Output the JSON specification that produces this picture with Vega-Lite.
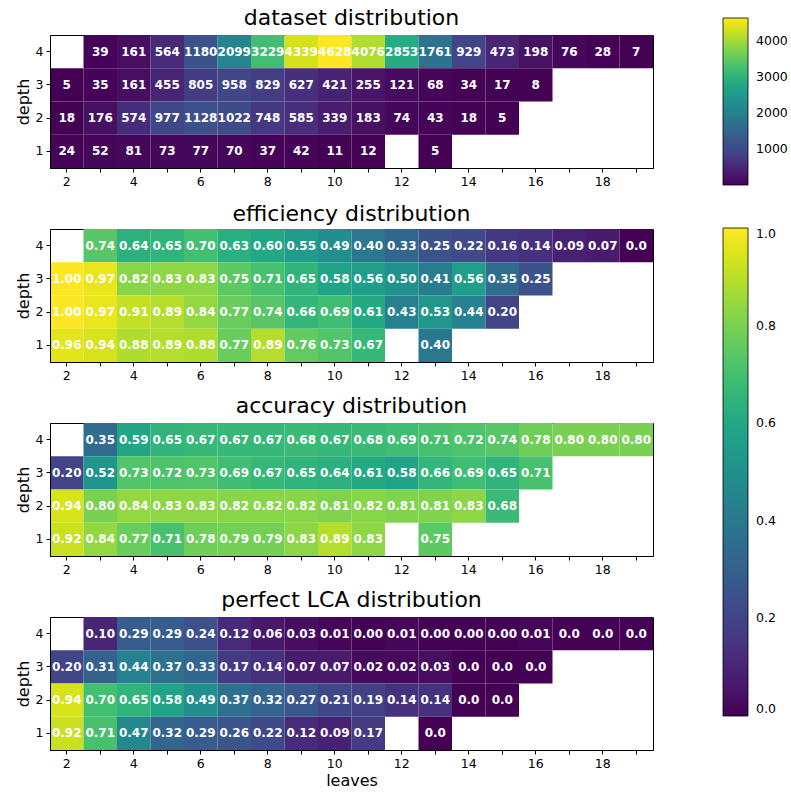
{
"$schema": "https://vega.github.io/schema/vega-lite/v6.json",
"background": "white",
"padding": {"left": 14, "top": 6, "right": 0, "bottom": 0},
"config": {
  "font": "DejaVu Sans",
  "view": {"stroke": "black", "strokeWidth": 1},
  "axis": {"domainColor": "black", "tickColor": "black", "tickSize": 4, "labelFontSize": 12.5, "labelFont": "DejaVu Sans", "labelColor": "black", "titleFont": "DejaVu Sans", "titleFontSize": 16, "titleFontWeight": "normal", "titleColor": "black", "grid": false, "labelPadding": 3},
  "title": {"font": "DejaVu Sans", "fontSize": 22, "fontWeight": "normal", "color": "black", "offset": 5, "frame": "group"},
  "legend": {"labelFont": "DejaVu Sans", "labelFontSize": 12.5, "labelColor": "black"}
},
"data": {"values": [
{"metric":"dataset","leaves":3,"depth":4,"value":39,"label":"39"},
{"metric":"dataset","leaves":4,"depth":4,"value":161,"label":"161"},
{"metric":"dataset","leaves":5,"depth":4,"value":564,"label":"564"},
{"metric":"dataset","leaves":6,"depth":4,"value":1180,"label":"1180"},
{"metric":"dataset","leaves":7,"depth":4,"value":2099,"label":"2099"},
{"metric":"dataset","leaves":8,"depth":4,"value":3229,"label":"3229"},
{"metric":"dataset","leaves":9,"depth":4,"value":4339,"label":"4339"},
{"metric":"dataset","leaves":10,"depth":4,"value":4628,"label":"4628"},
{"metric":"dataset","leaves":11,"depth":4,"value":4076,"label":"4076"},
{"metric":"dataset","leaves":12,"depth":4,"value":2853,"label":"2853"},
{"metric":"dataset","leaves":13,"depth":4,"value":1761,"label":"1761"},
{"metric":"dataset","leaves":14,"depth":4,"value":929,"label":"929"},
{"metric":"dataset","leaves":15,"depth":4,"value":473,"label":"473"},
{"metric":"dataset","leaves":16,"depth":4,"value":198,"label":"198"},
{"metric":"dataset","leaves":17,"depth":4,"value":76,"label":"76"},
{"metric":"dataset","leaves":18,"depth":4,"value":28,"label":"28"},
{"metric":"dataset","leaves":19,"depth":4,"value":7,"label":"7"},
{"metric":"dataset","leaves":2,"depth":3,"value":5,"label":"5"},
{"metric":"dataset","leaves":3,"depth":3,"value":35,"label":"35"},
{"metric":"dataset","leaves":4,"depth":3,"value":161,"label":"161"},
{"metric":"dataset","leaves":5,"depth":3,"value":455,"label":"455"},
{"metric":"dataset","leaves":6,"depth":3,"value":805,"label":"805"},
{"metric":"dataset","leaves":7,"depth":3,"value":958,"label":"958"},
{"metric":"dataset","leaves":8,"depth":3,"value":829,"label":"829"},
{"metric":"dataset","leaves":9,"depth":3,"value":627,"label":"627"},
{"metric":"dataset","leaves":10,"depth":3,"value":421,"label":"421"},
{"metric":"dataset","leaves":11,"depth":3,"value":255,"label":"255"},
{"metric":"dataset","leaves":12,"depth":3,"value":121,"label":"121"},
{"metric":"dataset","leaves":13,"depth":3,"value":68,"label":"68"},
{"metric":"dataset","leaves":14,"depth":3,"value":34,"label":"34"},
{"metric":"dataset","leaves":15,"depth":3,"value":17,"label":"17"},
{"metric":"dataset","leaves":16,"depth":3,"value":8,"label":"8"},
{"metric":"dataset","leaves":2,"depth":2,"value":18,"label":"18"},
{"metric":"dataset","leaves":3,"depth":2,"value":176,"label":"176"},
{"metric":"dataset","leaves":4,"depth":2,"value":574,"label":"574"},
{"metric":"dataset","leaves":5,"depth":2,"value":977,"label":"977"},
{"metric":"dataset","leaves":6,"depth":2,"value":1128,"label":"1128"},
{"metric":"dataset","leaves":7,"depth":2,"value":1022,"label":"1022"},
{"metric":"dataset","leaves":8,"depth":2,"value":748,"label":"748"},
{"metric":"dataset","leaves":9,"depth":2,"value":585,"label":"585"},
{"metric":"dataset","leaves":10,"depth":2,"value":339,"label":"339"},
{"metric":"dataset","leaves":11,"depth":2,"value":183,"label":"183"},
{"metric":"dataset","leaves":12,"depth":2,"value":74,"label":"74"},
{"metric":"dataset","leaves":13,"depth":2,"value":43,"label":"43"},
{"metric":"dataset","leaves":14,"depth":2,"value":18,"label":"18"},
{"metric":"dataset","leaves":15,"depth":2,"value":5,"label":"5"},
{"metric":"dataset","leaves":2,"depth":1,"value":24,"label":"24"},
{"metric":"dataset","leaves":3,"depth":1,"value":52,"label":"52"},
{"metric":"dataset","leaves":4,"depth":1,"value":81,"label":"81"},
{"metric":"dataset","leaves":5,"depth":1,"value":73,"label":"73"},
{"metric":"dataset","leaves":6,"depth":1,"value":77,"label":"77"},
{"metric":"dataset","leaves":7,"depth":1,"value":70,"label":"70"},
{"metric":"dataset","leaves":8,"depth":1,"value":37,"label":"37"},
{"metric":"dataset","leaves":9,"depth":1,"value":42,"label":"42"},
{"metric":"dataset","leaves":10,"depth":1,"value":11,"label":"11"},
{"metric":"dataset","leaves":11,"depth":1,"value":12,"label":"12"},
{"metric":"dataset","leaves":13,"depth":1,"value":5,"label":"5"},

{"metric":"efficiency","leaves":3,"depth":4,"value":0.74,"label":"0.74"},
{"metric":"efficiency","leaves":4,"depth":4,"value":0.64,"label":"0.64"},
{"metric":"efficiency","leaves":5,"depth":4,"value":0.65,"label":"0.65"},
{"metric":"efficiency","leaves":6,"depth":4,"value":0.70,"label":"0.70"},
{"metric":"efficiency","leaves":7,"depth":4,"value":0.63,"label":"0.63"},
{"metric":"efficiency","leaves":8,"depth":4,"value":0.60,"label":"0.60"},
{"metric":"efficiency","leaves":9,"depth":4,"value":0.55,"label":"0.55"},
{"metric":"efficiency","leaves":10,"depth":4,"value":0.49,"label":"0.49"},
{"metric":"efficiency","leaves":11,"depth":4,"value":0.40,"label":"0.40"},
{"metric":"efficiency","leaves":12,"depth":4,"value":0.33,"label":"0.33"},
{"metric":"efficiency","leaves":13,"depth":4,"value":0.25,"label":"0.25"},
{"metric":"efficiency","leaves":14,"depth":4,"value":0.22,"label":"0.22"},
{"metric":"efficiency","leaves":15,"depth":4,"value":0.16,"label":"0.16"},
{"metric":"efficiency","leaves":16,"depth":4,"value":0.14,"label":"0.14"},
{"metric":"efficiency","leaves":17,"depth":4,"value":0.09,"label":"0.09"},
{"metric":"efficiency","leaves":18,"depth":4,"value":0.07,"label":"0.07"},
{"metric":"efficiency","leaves":19,"depth":4,"value":0.0,"label":"0.0"},
{"metric":"efficiency","leaves":2,"depth":3,"value":1.00,"label":"1.00"},
{"metric":"efficiency","leaves":3,"depth":3,"value":0.97,"label":"0.97"},
{"metric":"efficiency","leaves":4,"depth":3,"value":0.82,"label":"0.82"},
{"metric":"efficiency","leaves":5,"depth":3,"value":0.83,"label":"0.83"},
{"metric":"efficiency","leaves":6,"depth":3,"value":0.83,"label":"0.83"},
{"metric":"efficiency","leaves":7,"depth":3,"value":0.75,"label":"0.75"},
{"metric":"efficiency","leaves":8,"depth":3,"value":0.71,"label":"0.71"},
{"metric":"efficiency","leaves":9,"depth":3,"value":0.65,"label":"0.65"},
{"metric":"efficiency","leaves":10,"depth":3,"value":0.58,"label":"0.58"},
{"metric":"efficiency","leaves":11,"depth":3,"value":0.56,"label":"0.56"},
{"metric":"efficiency","leaves":12,"depth":3,"value":0.50,"label":"0.50"},
{"metric":"efficiency","leaves":13,"depth":3,"value":0.41,"label":"0.41"},
{"metric":"efficiency","leaves":14,"depth":3,"value":0.56,"label":"0.56"},
{"metric":"efficiency","leaves":15,"depth":3,"value":0.35,"label":"0.35"},
{"metric":"efficiency","leaves":16,"depth":3,"value":0.25,"label":"0.25"},
{"metric":"efficiency","leaves":2,"depth":2,"value":1.00,"label":"1.00"},
{"metric":"efficiency","leaves":3,"depth":2,"value":0.97,"label":"0.97"},
{"metric":"efficiency","leaves":4,"depth":2,"value":0.91,"label":"0.91"},
{"metric":"efficiency","leaves":5,"depth":2,"value":0.89,"label":"0.89"},
{"metric":"efficiency","leaves":6,"depth":2,"value":0.84,"label":"0.84"},
{"metric":"efficiency","leaves":7,"depth":2,"value":0.77,"label":"0.77"},
{"metric":"efficiency","leaves":8,"depth":2,"value":0.74,"label":"0.74"},
{"metric":"efficiency","leaves":9,"depth":2,"value":0.66,"label":"0.66"},
{"metric":"efficiency","leaves":10,"depth":2,"value":0.69,"label":"0.69"},
{"metric":"efficiency","leaves":11,"depth":2,"value":0.61,"label":"0.61"},
{"metric":"efficiency","leaves":12,"depth":2,"value":0.43,"label":"0.43"},
{"metric":"efficiency","leaves":13,"depth":2,"value":0.53,"label":"0.53"},
{"metric":"efficiency","leaves":14,"depth":2,"value":0.44,"label":"0.44"},
{"metric":"efficiency","leaves":15,"depth":2,"value":0.20,"label":"0.20"},
{"metric":"efficiency","leaves":2,"depth":1,"value":0.96,"label":"0.96"},
{"metric":"efficiency","leaves":3,"depth":1,"value":0.94,"label":"0.94"},
{"metric":"efficiency","leaves":4,"depth":1,"value":0.88,"label":"0.88"},
{"metric":"efficiency","leaves":5,"depth":1,"value":0.89,"label":"0.89"},
{"metric":"efficiency","leaves":6,"depth":1,"value":0.88,"label":"0.88"},
{"metric":"efficiency","leaves":7,"depth":1,"value":0.77,"label":"0.77"},
{"metric":"efficiency","leaves":8,"depth":1,"value":0.89,"label":"0.89"},
{"metric":"efficiency","leaves":9,"depth":1,"value":0.76,"label":"0.76"},
{"metric":"efficiency","leaves":10,"depth":1,"value":0.73,"label":"0.73"},
{"metric":"efficiency","leaves":11,"depth":1,"value":0.67,"label":"0.67"},
{"metric":"efficiency","leaves":13,"depth":1,"value":0.40,"label":"0.40"},

{"metric":"accuracy","leaves":3,"depth":4,"value":0.35,"label":"0.35"},
{"metric":"accuracy","leaves":4,"depth":4,"value":0.59,"label":"0.59"},
{"metric":"accuracy","leaves":5,"depth":4,"value":0.65,"label":"0.65"},
{"metric":"accuracy","leaves":6,"depth":4,"value":0.67,"label":"0.67"},
{"metric":"accuracy","leaves":7,"depth":4,"value":0.67,"label":"0.67"},
{"metric":"accuracy","leaves":8,"depth":4,"value":0.67,"label":"0.67"},
{"metric":"accuracy","leaves":9,"depth":4,"value":0.68,"label":"0.68"},
{"metric":"accuracy","leaves":10,"depth":4,"value":0.67,"label":"0.67"},
{"metric":"accuracy","leaves":11,"depth":4,"value":0.68,"label":"0.68"},
{"metric":"accuracy","leaves":12,"depth":4,"value":0.69,"label":"0.69"},
{"metric":"accuracy","leaves":13,"depth":4,"value":0.71,"label":"0.71"},
{"metric":"accuracy","leaves":14,"depth":4,"value":0.72,"label":"0.72"},
{"metric":"accuracy","leaves":15,"depth":4,"value":0.74,"label":"0.74"},
{"metric":"accuracy","leaves":16,"depth":4,"value":0.78,"label":"0.78"},
{"metric":"accuracy","leaves":17,"depth":4,"value":0.80,"label":"0.80"},
{"metric":"accuracy","leaves":18,"depth":4,"value":0.80,"label":"0.80"},
{"metric":"accuracy","leaves":19,"depth":4,"value":0.80,"label":"0.80"},
{"metric":"accuracy","leaves":2,"depth":3,"value":0.20,"label":"0.20"},
{"metric":"accuracy","leaves":3,"depth":3,"value":0.52,"label":"0.52"},
{"metric":"accuracy","leaves":4,"depth":3,"value":0.73,"label":"0.73"},
{"metric":"accuracy","leaves":5,"depth":3,"value":0.72,"label":"0.72"},
{"metric":"accuracy","leaves":6,"depth":3,"value":0.73,"label":"0.73"},
{"metric":"accuracy","leaves":7,"depth":3,"value":0.69,"label":"0.69"},
{"metric":"accuracy","leaves":8,"depth":3,"value":0.67,"label":"0.67"},
{"metric":"accuracy","leaves":9,"depth":3,"value":0.65,"label":"0.65"},
{"metric":"accuracy","leaves":10,"depth":3,"value":0.64,"label":"0.64"},
{"metric":"accuracy","leaves":11,"depth":3,"value":0.61,"label":"0.61"},
{"metric":"accuracy","leaves":12,"depth":3,"value":0.58,"label":"0.58"},
{"metric":"accuracy","leaves":13,"depth":3,"value":0.66,"label":"0.66"},
{"metric":"accuracy","leaves":14,"depth":3,"value":0.69,"label":"0.69"},
{"metric":"accuracy","leaves":15,"depth":3,"value":0.65,"label":"0.65"},
{"metric":"accuracy","leaves":16,"depth":3,"value":0.71,"label":"0.71"},
{"metric":"accuracy","leaves":2,"depth":2,"value":0.94,"label":"0.94"},
{"metric":"accuracy","leaves":3,"depth":2,"value":0.80,"label":"0.80"},
{"metric":"accuracy","leaves":4,"depth":2,"value":0.84,"label":"0.84"},
{"metric":"accuracy","leaves":5,"depth":2,"value":0.83,"label":"0.83"},
{"metric":"accuracy","leaves":6,"depth":2,"value":0.83,"label":"0.83"},
{"metric":"accuracy","leaves":7,"depth":2,"value":0.82,"label":"0.82"},
{"metric":"accuracy","leaves":8,"depth":2,"value":0.82,"label":"0.82"},
{"metric":"accuracy","leaves":9,"depth":2,"value":0.82,"label":"0.82"},
{"metric":"accuracy","leaves":10,"depth":2,"value":0.81,"label":"0.81"},
{"metric":"accuracy","leaves":11,"depth":2,"value":0.82,"label":"0.82"},
{"metric":"accuracy","leaves":12,"depth":2,"value":0.81,"label":"0.81"},
{"metric":"accuracy","leaves":13,"depth":2,"value":0.81,"label":"0.81"},
{"metric":"accuracy","leaves":14,"depth":2,"value":0.83,"label":"0.83"},
{"metric":"accuracy","leaves":15,"depth":2,"value":0.68,"label":"0.68"},
{"metric":"accuracy","leaves":2,"depth":1,"value":0.92,"label":"0.92"},
{"metric":"accuracy","leaves":3,"depth":1,"value":0.84,"label":"0.84"},
{"metric":"accuracy","leaves":4,"depth":1,"value":0.77,"label":"0.77"},
{"metric":"accuracy","leaves":5,"depth":1,"value":0.71,"label":"0.71"},
{"metric":"accuracy","leaves":6,"depth":1,"value":0.78,"label":"0.78"},
{"metric":"accuracy","leaves":7,"depth":1,"value":0.79,"label":"0.79"},
{"metric":"accuracy","leaves":8,"depth":1,"value":0.79,"label":"0.79"},
{"metric":"accuracy","leaves":9,"depth":1,"value":0.83,"label":"0.83"},
{"metric":"accuracy","leaves":10,"depth":1,"value":0.89,"label":"0.89"},
{"metric":"accuracy","leaves":11,"depth":1,"value":0.83,"label":"0.83"},
{"metric":"accuracy","leaves":13,"depth":1,"value":0.75,"label":"0.75"},

{"metric":"lca","leaves":3,"depth":4,"value":0.10,"label":"0.10"},
{"metric":"lca","leaves":4,"depth":4,"value":0.29,"label":"0.29"},
{"metric":"lca","leaves":5,"depth":4,"value":0.29,"label":"0.29"},
{"metric":"lca","leaves":6,"depth":4,"value":0.24,"label":"0.24"},
{"metric":"lca","leaves":7,"depth":4,"value":0.12,"label":"0.12"},
{"metric":"lca","leaves":8,"depth":4,"value":0.06,"label":"0.06"},
{"metric":"lca","leaves":9,"depth":4,"value":0.03,"label":"0.03"},
{"metric":"lca","leaves":10,"depth":4,"value":0.01,"label":"0.01"},
{"metric":"lca","leaves":11,"depth":4,"value":0.003,"label":"0.00"},
{"metric":"lca","leaves":12,"depth":4,"value":0.01,"label":"0.01"},
{"metric":"lca","leaves":13,"depth":4,"value":0.003,"label":"0.00"},
{"metric":"lca","leaves":14,"depth":4,"value":0.003,"label":"0.00"},
{"metric":"lca","leaves":15,"depth":4,"value":0.003,"label":"0.00"},
{"metric":"lca","leaves":16,"depth":4,"value":0.01,"label":"0.01"},
{"metric":"lca","leaves":17,"depth":4,"value":0.0,"label":"0.0"},
{"metric":"lca","leaves":18,"depth":4,"value":0.0,"label":"0.0"},
{"metric":"lca","leaves":19,"depth":4,"value":0.0,"label":"0.0"},
{"metric":"lca","leaves":2,"depth":3,"value":0.20,"label":"0.20"},
{"metric":"lca","leaves":3,"depth":3,"value":0.31,"label":"0.31"},
{"metric":"lca","leaves":4,"depth":3,"value":0.44,"label":"0.44"},
{"metric":"lca","leaves":5,"depth":3,"value":0.37,"label":"0.37"},
{"metric":"lca","leaves":6,"depth":3,"value":0.33,"label":"0.33"},
{"metric":"lca","leaves":7,"depth":3,"value":0.17,"label":"0.17"},
{"metric":"lca","leaves":8,"depth":3,"value":0.14,"label":"0.14"},
{"metric":"lca","leaves":9,"depth":3,"value":0.07,"label":"0.07"},
{"metric":"lca","leaves":10,"depth":3,"value":0.07,"label":"0.07"},
{"metric":"lca","leaves":11,"depth":3,"value":0.02,"label":"0.02"},
{"metric":"lca","leaves":12,"depth":3,"value":0.02,"label":"0.02"},
{"metric":"lca","leaves":13,"depth":3,"value":0.03,"label":"0.03"},
{"metric":"lca","leaves":14,"depth":3,"value":0.0,"label":"0.0"},
{"metric":"lca","leaves":15,"depth":3,"value":0.0,"label":"0.0"},
{"metric":"lca","leaves":16,"depth":3,"value":0.0,"label":"0.0"},
{"metric":"lca","leaves":2,"depth":2,"value":0.94,"label":"0.94"},
{"metric":"lca","leaves":3,"depth":2,"value":0.70,"label":"0.70"},
{"metric":"lca","leaves":4,"depth":2,"value":0.65,"label":"0.65"},
{"metric":"lca","leaves":5,"depth":2,"value":0.58,"label":"0.58"},
{"metric":"lca","leaves":6,"depth":2,"value":0.49,"label":"0.49"},
{"metric":"lca","leaves":7,"depth":2,"value":0.37,"label":"0.37"},
{"metric":"lca","leaves":8,"depth":2,"value":0.32,"label":"0.32"},
{"metric":"lca","leaves":9,"depth":2,"value":0.27,"label":"0.27"},
{"metric":"lca","leaves":10,"depth":2,"value":0.21,"label":"0.21"},
{"metric":"lca","leaves":11,"depth":2,"value":0.19,"label":"0.19"},
{"metric":"lca","leaves":12,"depth":2,"value":0.14,"label":"0.14"},
{"metric":"lca","leaves":13,"depth":2,"value":0.14,"label":"0.14"},
{"metric":"lca","leaves":14,"depth":2,"value":0.0,"label":"0.0"},
{"metric":"lca","leaves":15,"depth":2,"value":0.0,"label":"0.0"},
{"metric":"lca","leaves":2,"depth":1,"value":0.92,"label":"0.92"},
{"metric":"lca","leaves":3,"depth":1,"value":0.71,"label":"0.71"},
{"metric":"lca","leaves":4,"depth":1,"value":0.47,"label":"0.47"},
{"metric":"lca","leaves":5,"depth":1,"value":0.32,"label":"0.32"},
{"metric":"lca","leaves":6,"depth":1,"value":0.29,"label":"0.29"},
{"metric":"lca","leaves":7,"depth":1,"value":0.26,"label":"0.26"},
{"metric":"lca","leaves":8,"depth":1,"value":0.22,"label":"0.22"},
{"metric":"lca","leaves":9,"depth":1,"value":0.12,"label":"0.12"},
{"metric":"lca","leaves":10,"depth":1,"value":0.09,"label":"0.09"},
{"metric":"lca","leaves":11,"depth":1,"value":0.17,"label":"0.17"},
{"metric":"lca","leaves":13,"depth":1,"value":0.0,"label":"0.0"}
]},
"bounds": "flush",
"spacing": 61,
"resolve": {"scale": {"color": "independent"}, "legend": {"color": "independent"}},
"vconcat": [
{
  "width": 603, "height": 133,
  "title": {"text": "dataset distribution", "dy": 17},
  "transform": [{"filter": "datum.metric == 'dataset'"}],
  "encoding": {
    "x": {"field": "leaves", "type": "ordinal", "scale": {"domain": [2,3,4,5,6,7,8,9,10,11,12,13,14,15,16,17,18,19], "paddingInner": 0, "paddingOuter": 0}, "axis": {"title": null, "labelAngle": 0, "labelExpr": "datum.value % 2 == 0 ? datum.label : ''"}},
    "y": {"field": "depth", "type": "ordinal", "scale": {"domain": [4,3,2,1], "paddingInner": 0, "paddingOuter": 0}, "axis": {"title": "depth"}}
  },
  "layer": [
    {"mark": {"type": "rect"}, "encoding": {"color": {"field": "value", "type": "quantitative", "scale": {"scheme": "viridis", "domain": [5, 4628]}, "legend": {"orient": "none", "legendX": 673, "legendY": -17, "direction": "vertical", "gradientLength": 167, "gradientThickness": 25, "title": null, "values": [1000,2000,3000,4000], "format": "d", "labelOffset": 8, "gradientStrokeColor": "black", "gradientStrokeWidth": 0.8}}}},
    {"mark": {"type": "text", "color": "white", "fontWeight": "bold", "fontSize": 12, "font": "DejaVu Sans"}, "encoding": {"text": {"field": "label"}}}
  ]
},
{
  "width": 603, "height": 133,
  "title": {"text": "efficiency distribution", "dy": 3},
  "transform": [{"filter": "datum.metric == 'efficiency'"}],
  "encoding": {
    "x": {"field": "leaves", "type": "ordinal", "scale": {"domain": [2,3,4,5,6,7,8,9,10,11,12,13,14,15,16,17,18,19], "paddingInner": 0, "paddingOuter": 0}, "axis": {"title": null, "labelAngle": 0, "labelExpr": "datum.value % 2 == 0 ? datum.label : ''"}},
    "y": {"field": "depth", "type": "ordinal", "scale": {"domain": [4,3,2,1], "paddingInner": 0, "paddingOuter": 0}, "axis": {"title": "depth"}}
  },
  "layer": [
    {"mark": {"type": "rect"}, "encoding": {"color": {"field": "value", "type": "quantitative", "scale": {"scheme": "viridis", "domain": [0, 1]}, "legend": {"orient": "none", "legendX": 673, "legendY": -1, "direction": "vertical", "gradientLength": 488, "gradientThickness": 25, "title": null, "values": [0,0.2,0.4,0.6,0.8,1.0], "format": ".1f", "labelOffset": 8, "gradientStrokeColor": "black", "gradientStrokeWidth": 0.8}}}},
    {"mark": {"type": "text", "color": "white", "fontWeight": "bold", "fontSize": 12, "font": "DejaVu Sans"}, "encoding": {"text": {"field": "label"}}}
  ]
},
{
  "width": 603, "height": 133,
  "title": "accuracy distribution",
  "transform": [{"filter": "datum.metric == 'accuracy'"}],
  "encoding": {
    "x": {"field": "leaves", "type": "ordinal", "scale": {"domain": [2,3,4,5,6,7,8,9,10,11,12,13,14,15,16,17,18,19], "paddingInner": 0, "paddingOuter": 0}, "axis": {"title": null, "labelAngle": 0, "labelExpr": "datum.value % 2 == 0 ? datum.label : ''"}},
    "y": {"field": "depth", "type": "ordinal", "scale": {"domain": [4,3,2,1], "paddingInner": 0, "paddingOuter": 0}, "axis": {"title": "depth"}}
  },
  "layer": [
    {"mark": {"type": "rect"}, "encoding": {"color": {"field": "value", "type": "quantitative", "scale": {"scheme": "viridis", "domain": [0, 1]}, "legend": null}}},
    {"mark": {"type": "text", "color": "white", "fontWeight": "bold", "fontSize": 12, "font": "DejaVu Sans"}, "encoding": {"text": {"field": "label"}}}
  ]
},
{
  "width": 603, "height": 133,
  "title": "perfect LCA distribution",
  "transform": [{"filter": "datum.metric == 'lca'"}],
  "encoding": {
    "x": {"field": "leaves", "type": "ordinal", "scale": {"domain": [2,3,4,5,6,7,8,9,10,11,12,13,14,15,16,17,18,19], "paddingInner": 0, "paddingOuter": 0}, "axis": {"title": "leaves", "titlePadding": 3, "labelAngle": 0, "labelExpr": "datum.value % 2 == 0 ? datum.label : ''"}},
    "y": {"field": "depth", "type": "ordinal", "scale": {"domain": [4,3,2,1], "paddingInner": 0, "paddingOuter": 0}, "axis": {"title": "depth"}}
  },
  "layer": [
    {"mark": {"type": "rect"}, "encoding": {"color": {"field": "value", "type": "quantitative", "scale": {"scheme": "viridis", "domain": [0, 1]}, "legend": null}}},
    {"mark": {"type": "text", "color": "white", "fontWeight": "bold", "fontSize": 12, "font": "DejaVu Sans"}, "encoding": {"text": {"field": "label"}}}
  ]
}
]
}
